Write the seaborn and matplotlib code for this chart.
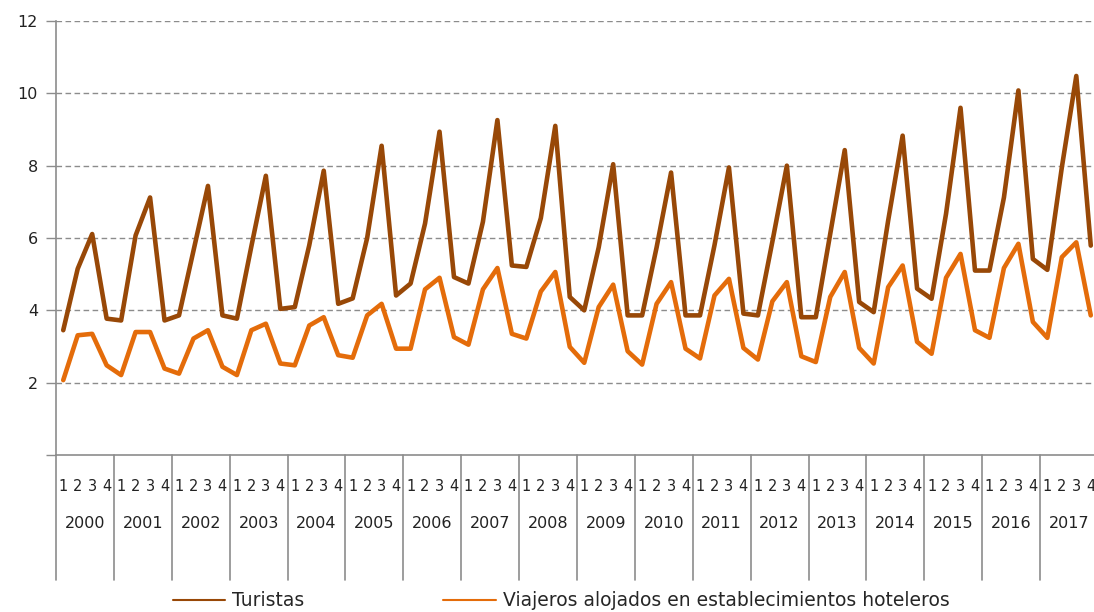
import numpy as np
import pandas as pd
import matplotlib
matplotlib.use("Agg")
import matplotlib.pyplot as plt
from matplotlib.lines import Line2D
import matplotlib.transforms as mtransforms
import seaborn as sns

# datos trimestrales (millones), 2000T1 - 2017T4
years = list(range(2000, 2018))
quarters = ["1", "2", "3", "4"]

turistas = [3.45, 5.15, 6.11, 3.77,
            3.72, 6.07, 7.12, 3.72,
            3.86, 5.65, 7.44, 3.86,
            3.77, 5.77, 7.72, 4.04,
            4.09, 5.80, 7.86, 4.18,
            4.33, 6.00, 8.55, 4.41,
            4.74, 6.40, 8.94, 4.92,
            4.74, 6.45, 9.26, 5.24,
            5.20, 6.55, 9.10, 4.37,
            4.00, 5.74, 8.04, 3.86,
            3.86, 5.74, 7.81, 3.86,
            3.86, 5.80, 7.95, 3.91,
            3.86, 5.90, 8.00, 3.81,
            3.81, 6.12, 8.43, 4.23,
            3.95, 6.48, 8.83, 4.60,
            4.32, 6.67, 9.60, 5.10,
            5.10, 7.12, 10.08, 5.42,
            5.12, 7.95, 10.48, 5.79]

viajeros = [2.07, 3.31, 3.35, 2.48,
            2.21, 3.40, 3.40, 2.39,
            2.25, 3.22, 3.45, 2.44,
            2.21, 3.45, 3.63, 2.53,
            2.48, 3.58, 3.81, 2.76,
            2.69, 3.86, 4.18, 2.94,
            2.94, 4.58, 4.90, 3.26,
            3.05, 4.58, 5.17, 3.35,
            3.22, 4.52, 5.06, 2.99,
            2.55, 4.09, 4.71, 2.87,
            2.50, 4.18, 4.78, 2.94,
            2.67, 4.41, 4.87, 2.96,
            2.64, 4.25, 4.78, 2.73,
            2.57, 4.37, 5.06, 2.96,
            2.53, 4.64, 5.24, 3.13,
            2.80, 4.90, 5.56, 3.45,
            3.24, 5.17, 5.84, 3.68,
            3.24, 5.47, 5.88, 3.86]

serie_t = "Turistas"
serie_v = "Viajeros alojados en establecimientos hoteleros"
colores = {serie_t: "#984807", serie_v: "#E46C0A"}

n = len(turistas)
df = pd.DataFrame({
    "pos": list(range(n)) * 2,
    "valor": turistas + viajeros,
    "serie": [serie_t] * n + [serie_v] * n,
})

sns.set_theme(style="white")
plt.rcParams["font.family"] = ["DejaVu Sans"]

W, H = 1094, 612
fig = plt.figure(figsize=(W / 100, H / 100), dpi=100)
ax = fig.add_axes([56 / W, 1 - 455 / H, 1042 / W, (455 - 21) / H])

sns.lineplot(data=df, x="pos", y="valor", hue="serie", palette=colores,
             linewidth=3.3, ax=ax, legend=False)

ax.set_xlim(-0.5, n - 0.5)
ax.set_ylim(0, 12)
ax.set_xlabel("")
ax.set_ylabel("")

# eje y
ax.set_yticks([0, 2, 4, 6, 8, 10, 12])
ax.set_yticklabels(["", "2", "4", "6", "8", "10", "12"], fontsize=11.5, color="#222222")
ax.tick_params(axis="y", length=7, width=1, color="#8c8c8c", pad=6, direction="out", left=True)
for yv in [2, 4, 6, 8, 10, 12]:
    ax.axhline(yv, color="#8c8c8c", lw=1, ls=(0, (4, 2.5)), zorder=0)

for s in ["top", "right"]:
    ax.spines[s].set_visible(False)
for s in ["left", "bottom"]:
    ax.spines[s].set_color("#8c8c8c")
    ax.spines[s].set_linewidth(1.2)

# eje x: trimestres y años
ax.set_xticks(range(n))
ax.set_xticklabels(quarters * len(years), fontsize=10.5, color="#222222")
ax.tick_params(axis="x", length=0, pad=17)

trans = mtransforms.blended_transform_factory(ax.transData, ax.transAxes)
bajo = -(580 - 455) / (455 - 21)
for k in range(len(years) + 1):
    xb = 4 * k - 0.5
    ax.add_line(Line2D([xb, xb], [0, bajo], transform=trans, color="#8c8c8c",
                       lw=1.2, clip_on=False))
ano_y = -(523 - 455) / (455 - 21)
for k, yr in enumerate(years):
    ax.text(4 * k + 1.5, ano_y, str(yr), transform=trans, ha="center", va="center",
            fontsize=11.5, color="#222222")

# leyenda
handles = [Line2D([], [], color=colores[serie_t], lw=1.5),
           Line2D([], [], color=colores[serie_v], lw=1.5)]
fig.legend(handles, [serie_t, serie_v], loc="center", bbox_to_anchor=(0.513, 0.018),
           ncol=2, frameon=False, fontsize=13.5, handlelength=2.8, handletextpad=0.37,
           columnspacing=7.4)

fig.savefig("out.png", dpi=100)
